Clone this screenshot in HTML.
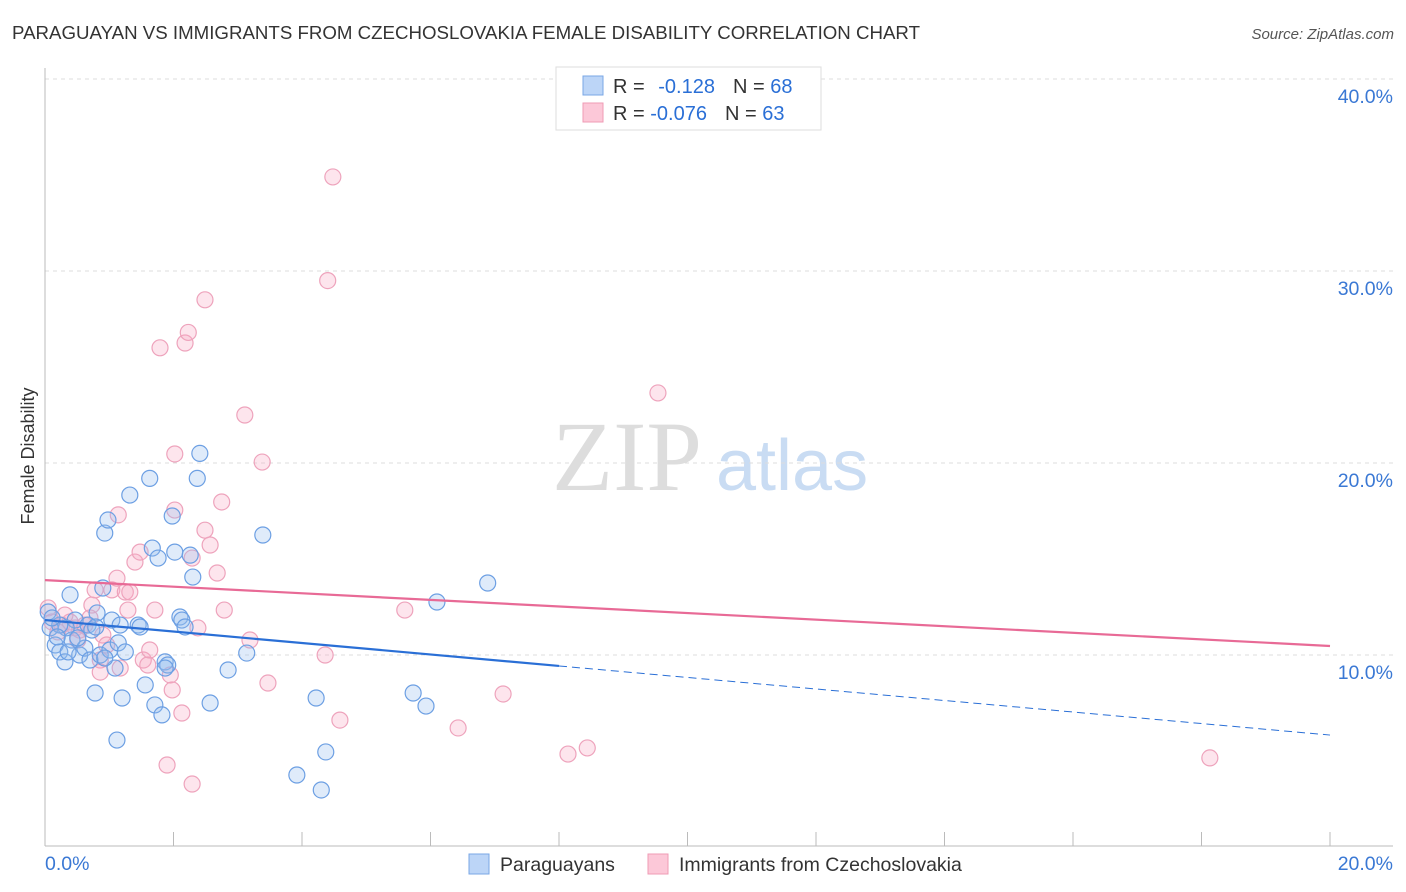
<!DOCTYPE html>
<html><head><meta charset="utf-8"><style>
body{margin:0;background:#fff;font-family:"Liberation Sans",sans-serif;}
svg{display:block}
</style></head><body>
<svg id="chart" width="1406" height="892" xmlns="http://www.w3.org/2000/svg">
<text x="12" y="39" font-size="18" fill="#333" textLength="908" lengthAdjust="spacingAndGlyphs">PARAGUAYAN VS IMMIGRANTS FROM CZECHOSLOVAKIA FEMALE DISABILITY CORRELATION CHART</text>
<text x="1394" y="39" font-size="15" fill="#555" font-style="italic" text-anchor="end">Source: ZipAtlas.com</text>
<g>
<text x="552" y="490" font-size="100" fill="#ddd" font-family="Liberation Serif,serif">ZIP</text>
<text x="716" y="490" font-size="72" fill="#c9dcf3">atlas</text>
</g>
<g id="grid"></g>
<g id="axes"></g>
<g id="marks"></g>
<text transform="translate(34,456) rotate(-90)" font-size="18" fill="#333" text-anchor="middle">Female Disability</text>
<g>
<rect x="556" y="67" width="265" height="63" fill="#fff" stroke="#ddd"/>
<rect x="583" y="76" width="20" height="19" fill="#bcd5f7" stroke="#7aa7e6"/>
<rect x="583" y="103" width="20" height="19" fill="#fcc8d8" stroke="#ef9bb5"/>
<text x="613" y="93" font-size="20" fill="#333">R = <tspan fill="#2a6fd6" dx="8">-0.128</tspan><tspan fill="#333" dx="18">N = </tspan><tspan fill="#2a6fd6">68</tspan></text>
<text x="613" y="120" font-size="20" fill="#333">R = <tspan fill="#2a6fd6">-0.076</tspan><tspan fill="#333" dx="18">N = </tspan><tspan fill="#2a6fd6">63</tspan></text>
</g>
<g>
<rect x="469" y="854" width="20" height="20" fill="#bcd5f7" stroke="#7aa7e6"/>
<text x="500" y="871" font-size="19.5" fill="#333">Paraguayans</text>
<rect x="648" y="854" width="20" height="20" fill="#fcc8d8" stroke="#ef9bb5"/>
<text x="679" y="871" font-size="19.5" fill="#333">Immigrants from Czechoslovakia</text>
</g>
</svg>
<script>
const blueX=[0.05,0.08,0.16,0.23,0.31,0.39,0.42,0.47,0.54,0.62,0.70,0.78,0.81,0.86,0.90,0.93,0.98,1.01,1.04,1.09,1.14,1.20,1.25,1.12,1.32,1.45,1.48,1.56,1.63,1.67,1.71,1.76,1.82,1.87,1.91,1.98,2.02,2.10,2.13,2.18,2.26,2.30,2.37,2.41,2.57,2.85,3.14,3.39,3.92,4.22,4.30,4.37,5.73,5.93,6.10,6.89,0.33,0.51,0.67,0.73,0.79,0.23,0.11,0.19,0.36,0.93,1.17,1.87];
const blueY=[12.24,11.41,10.52,10.16,9.64,13.13,10.78,11.82,10.0,10.36,9.74,8.02,12.19,10.0,13.49,16.35,17.03,10.26,11.82,9.32,10.63,7.76,10.16,5.57,18.33,11.56,11.46,8.44,19.2,15.57,7.4,15.05,6.88,9.64,9.48,17.24,15.36,11.98,11.82,11.46,15.2,14.06,19.2,20.5,7.5,9.22,10.1,16.25,3.75,7.76,2.97,4.95,8.02,7.34,12.76,13.75,11.41,10.89,11.56,11.3,11.46,11.56,11.93,10.94,10.16,9.84,11.56,9.32];
const pinkX=[0.05,0.11,0.20,0.26,0.39,0.47,0.54,0.62,0.70,0.78,0.86,0.90,0.96,1.04,1.12,1.14,1.17,1.25,1.32,1.40,1.48,1.53,1.60,1.63,1.71,1.79,1.90,1.95,2.02,2.02,2.13,2.18,2.23,2.29,2.38,2.49,2.49,2.57,2.68,2.75,2.79,3.11,3.19,3.38,3.47,4.36,4.40,4.48,4.59,5.60,6.43,7.13,8.14,8.44,9.54,18.13,2.29,0.31,0.51,0.73,0.86,1.29,1.98];
const pinkY=[12.45,11.72,11.2,11.56,11.72,11.41,11.3,11.56,11.93,13.39,9.74,11.04,10.52,13.39,14.0,17.3,9.32,13.28,13.28,14.84,15.36,9.74,9.48,10.26,12.34,26.0,4.27,8.96,20.47,17.55,6.98,26.25,26.8,15.05,11.41,28.5,16.5,15.73,14.27,17.97,12.34,22.5,10.78,20.05,8.54,10.0,29.5,34.9,6.61,12.34,6.2,7.97,4.84,5.16,23.65,4.64,3.28,12.08,10.78,12.6,9.11,12.34,8.18];
const yTicks=[10,20,30,40];
const xTickLabels=["0.0%","20.0%"];
const blueLine=[11.82,9.43,5.83]; // at x=0, 8, 20
const pinkLine=[13.9,10.47]; // at x=0, 20
const NS="http://www.w3.org/2000/svg";
const sx=v=>45+v*64.25, sy=v=>847-v*19.2;
function mk(tag,attrs,parent){const e=document.createElementNS(NS,tag);for(const k in attrs)e.setAttribute(k,attrs[k]);parent.appendChild(e);return e;}
const grid=document.getElementById('grid'),axes=document.getElementById('axes'),marks=document.getElementById('marks');
yTicks.forEach(t=>{
 const l=mk('line',{x1:45,x2:1393,y1:sy(t),y2:sy(t),stroke:'#ddd','stroke-dasharray':'4,4'},grid);
 
 
 const tx=mk('text',{x:1393,y:sy(t)+24,'font-size':19.5,fill:'#3a78d4','text-anchor':'end'},axes);
 tx.textContent=t.toFixed(1)+'%';
 
 
});
const ax=mk('line',{x1:45,x2:1393,y1:846,y2:846,stroke:'#bbb'},axes);


const ay=mk('line',{x1:45,x2:45,y1:68,y2:846,stroke:'#bbb'},axes);


for(let i=0;i<=20;i+=2){const t=mk('line',{x1:sx(i),x2:sx(i),y1:832,y2:846,stroke:'#bbb'},axes);
 
 }
xTickLabels.forEach((s,i)=>{const t=mk('text',{x:i?1393:45,y:870,'font-size':19.5,fill:'#3a78d4','text-anchor':i?'end':'start'},axes);t.textContent=s;
 
 });
pinkX.forEach((x,i)=>{const c=mk('circle',{cx:sx(x),cy:sy(pinkY[i]),r:8,fill:'rgba(248,170,195,0.3)',stroke:'#eea3bc','stroke-width':1.2},marks);
 
 });
blueX.forEach((x,i)=>{const c=mk('circle',{cx:sx(x),cy:sy(blueY[i]),r:8,fill:'rgba(150,190,240,0.3)',stroke:'#6c9fe3','stroke-width':1.2},marks);
 
 });
const bl=mk('line',{x1:sx(0),y1:sy(blueLine[0]),x2:sx(8),y2:sy(blueLine[1]),stroke:'#2a6fd6','stroke-width':2.2},marks);


const bd=mk('line',{x1:sx(8),y1:sy(blueLine[1]),x2:sx(20),y2:sy(blueLine[2]),stroke:'#2a6fd6','stroke-width':1,'stroke-dasharray':'8,5'},marks);


const pl=mk('line',{x1:sx(0),y1:sy(pinkLine[0]),x2:sx(20),y2:sy(pinkLine[1]),stroke:'#e86a96','stroke-width':2.2},marks);


</script>
</body></html>
